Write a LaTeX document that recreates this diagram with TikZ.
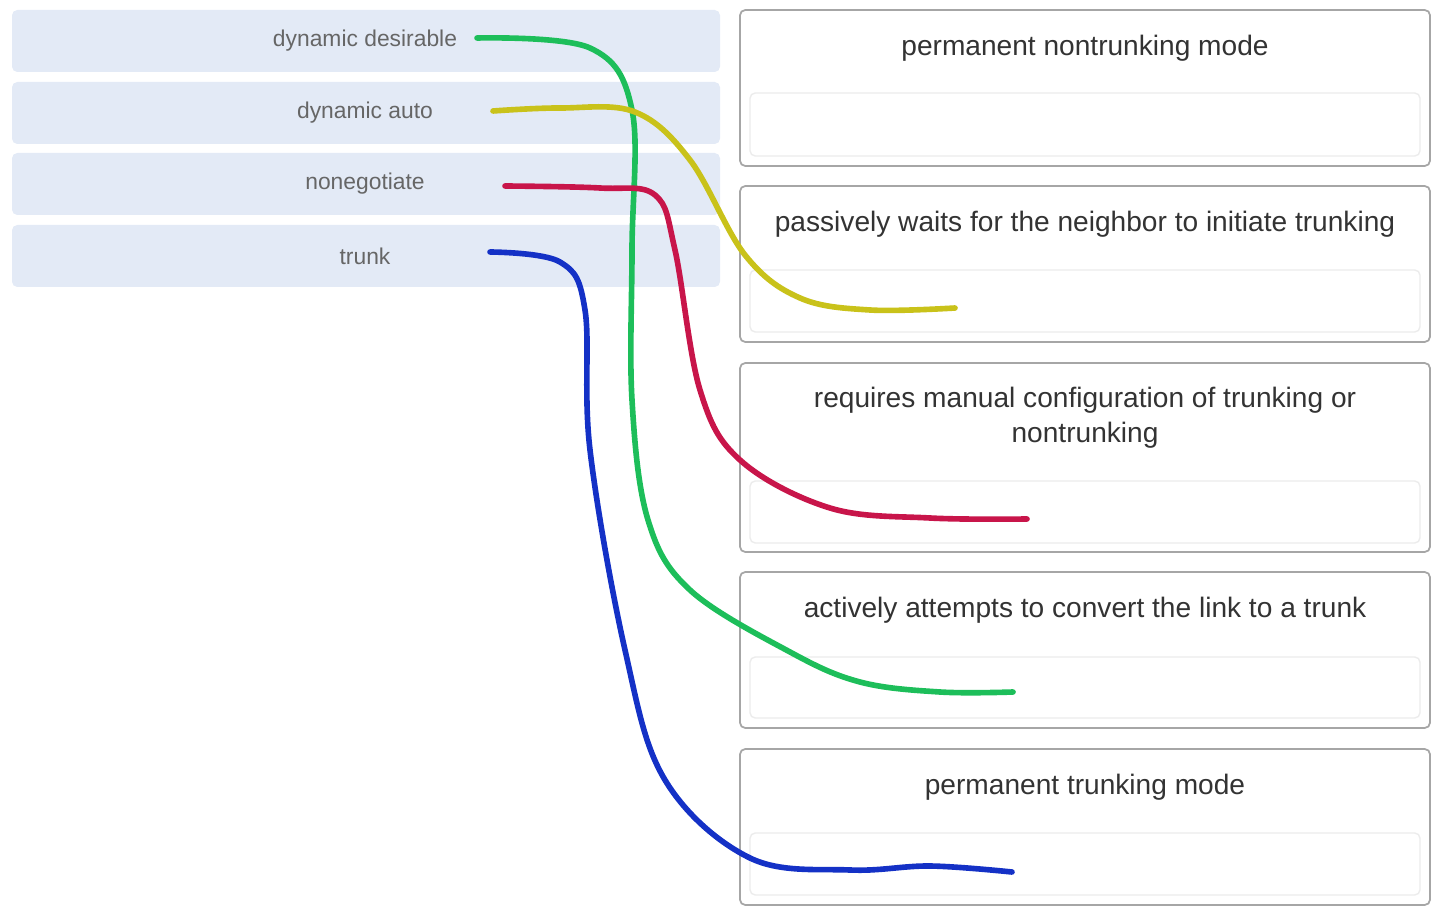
\documentclass[tikz,border=0pt]{standalone}
\usepackage{fontspec}
\setmainfont{Liberation Sans}
\begin{document}
\begin{tikzpicture}[x=0.02cm,y=-0.02cm,
  lbox/.style={fill=lb,rounded corners=3pt},
  rbox/.style={draw=gray!70,line width=1pt,rounded corners=3pt,fill=white},
  ibox/.style={draw=gray!15,line width=0.8pt,rounded corners=3pt},
  ltxt/.style={text=gray!80!black,font=\fontsize{13}{15}\selectfont},
  rtxt/.style={text=black!80,font=\fontsize{16}{20}\selectfont,align=center},
  wire/.style={line width=3.2pt,line cap=round}]
\definecolor{lb}{HTML}{E3EAF6}
\definecolor{cg}{HTML}{1DBE5A}
\definecolor{cy}{HTML}{C9C21A}
\definecolor{cr}{HTML}{C8154A}
\definecolor{cb}{HTML}{1431C6}
\useasboundingbox (0,0) rectangle (1440,918);
\foreach \a/\b in {10/72,82/144,153/215,225/287}
  \fill[lb,rounded corners=3pt] (12,\a) rectangle (720,\b);
\node[ltxt] (l1) at (365,41) {dynamic desirable};
\node[ltxt] (l2) at (365,113) {dynamic auto};
\node[ltxt] (l3) at (365,184) {nonegotiate};
\node[ltxt] (l4) at (365,256) {trunk};
\foreach \a/\b/\c/\d in {10/166/93/156,186/342/270/332,363/552/481/543,572/728/657/718,749/905/833/895}{
  \draw[rbox] (740,\a) rectangle (1430,\b);
  \draw[ibox] (750,\c) rectangle (1420,\d);}
\node[rtxt] (r1) at (1085,48) {permanent nontrunking mode};
\node[rtxt] (r2) at (1085,224) {passively waits for the neighbor to initiate trunking};
\node[rtxt] (r3) at (1085,418) {requires manual configuration of trunking or\\nontrunking};
\node[rtxt] (r4) at (1085,610) {actively attempts to convert the link to a trunk};
\node[rtxt] (r5) at (1085,787) {permanent trunking mode};
\coordinate (s1) at (477,38); \coordinate (e1) at (1013,692);
\coordinate (s2) at (493,111); \coordinate (e2) at (955,308);
\coordinate (s3) at (505,186); \coordinate (e3) at (1027,519);
\coordinate (s4) at (490,252); \coordinate (e4) at (1012,872);
\draw[wire,cg] plot[smooth,tension=0.6] coordinates {(s1) (590,48) (632,110) (632,250) (632,400) (648,520) (690,590) (790,652) (860,682) (940,692) (e1)};
\draw[wire,cy] plot[smooth,tension=0.6] coordinates {(s2) (560,108) (635,112) (690,160) (745,255) (800,298) (870,310) (e2)};
\draw[wire,cr] plot[smooth,tension=0.6] coordinates {(s3) (600,188) (655,195) (675,250) (700,390) (740,460) (830,508) (930,518) (e3)};
\draw[wire,cb] plot[smooth,tension=0.6] coordinates {(s4) (560,262) (585,310) (590,450) (625,650) (665,780) (750,858) (850,870) (930,866) (e4)};
\end{tikzpicture}
\end{document}
